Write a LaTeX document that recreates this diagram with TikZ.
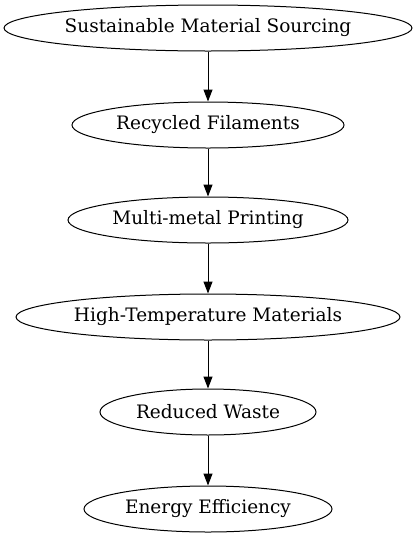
\documentclass[tikz,border=0pt]{standalone}
\usepackage{fontspec}
\setmainfont{DejaVu Serif}
\usetikzlibrary{shapes.geometric,arrows.meta}
\begin{document}
\begin{tikzpicture}[x=1pt,y=-1pt,
  ell/.style={draw,ellipse,line width=1pt,inner sep=0pt,minimum height=46pt,font=\fontsize{18.5pt}{20pt}\selectfont},
  conn/.style={-{Triangle[length=12pt,width=9pt]},line width=1pt}]
\useasboundingbox (0,0) rectangle (416,539);
\node[ell,minimum width=408pt] (a) at (208,28) {Sustainable Material Sourcing};
\node[ell,minimum width=272pt] (b) at (208,125) {Recycled Filaments};
\node[ell,minimum width=280pt] (c) at (208,220) {Multi-metal Printing};
\node[ell,minimum width=384pt] (d) at (208,317) {High-Temperature Materials};
\node[ell,minimum width=216pt] (e) at (208,412) {Reduced Waste};
\node[ell,minimum width=248pt] (f) at (208,509) {Energy Efficiency};
\draw[conn] (a) -- (b);
\draw[conn] (b) -- (c);
\draw[conn] (c) -- (d);
\draw[conn] (d) -- (e);
\draw[conn] (e) -- (f);
\end{tikzpicture}
\end{document}
